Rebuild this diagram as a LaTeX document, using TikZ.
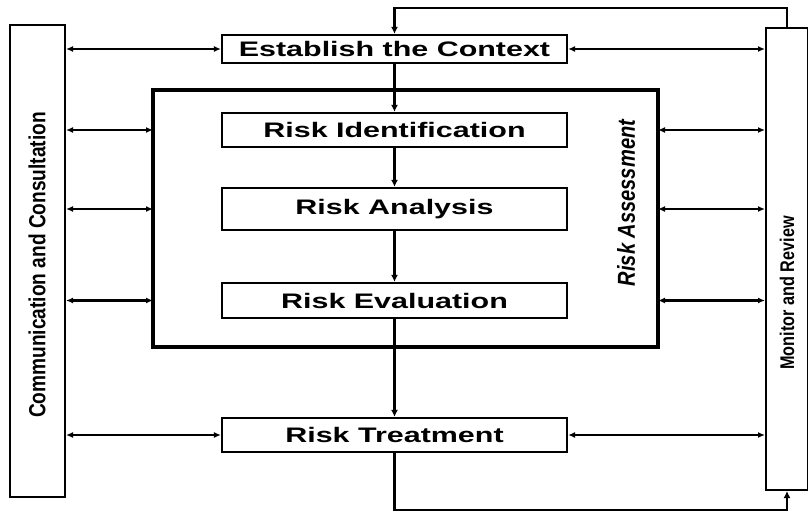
\documentclass[tikz,border=0pt]{standalone}
\usepackage{fontspec}
\setmainfont{Liberation Sans}
\newfontfamily\boxfont[FakeStretch=1.45]{Liberation Sans}
\newfontfamily\sidefont[FakeStretch=0.82]{Liberation Sans}
\usetikzlibrary{arrows.meta,positioning,calc}

\begin{document}
\begin{tikzpicture}[x=1pt,y=-1pt,
  stage/.style={draw,line width=2.2pt,minimum width=345pt,inner sep=0pt,
                font=\boxfont\bfseries\fontsize{21}{24}\selectfont},
  side/.style={draw,line width=2pt,inner sep=0pt},
  lbl/.style={rotate=90,inner sep=0pt,font=\sidefont\bfseries\fontsize{23.3}{26}\selectfont},
  link/.style={line width=2.2pt,{Latex[length=7pt,width=6pt]}-{Latex[length=7pt,width=6pt]}},
  flow/.style={line width=2.4pt,-{Latex[length=7pt,width=7pt]}}]
\useasboundingbox (0,0) rectangle (808,513);
\node[side,minimum width=55pt,minimum height=472pt] (comm) at (37.5,261) {};
\node[side,minimum width=42pt,minimum height=462pt] (monitor) at (787,259) {};
\draw[line width=3.2pt] (153,90) rectangle (658,347);
\coordinate (assessW) at (153,0);
\coordinate (assessE) at (658,0);
\node[stage,minimum height=28pt] (context) at (394.5,49) {Establish the Context};
\node[stage,minimum height=34pt] (ident) at (394.5,130) {Risk Identification};
\node[stage,minimum height=42pt] (analysis) at (394.5,209) {Risk Analysis};
\node[stage,minimum height=35pt] (evaluation) at (394.5,300.5) {Risk Evaluation};
\node[stage,minimum height=34pt] (treatment) at (394.5,435) {Risk Treatment};
\node[lbl] (commtext) at (37,265) {Communication and Consultation};
\node[lbl,font=\sidefont\bfseries\itshape\fontsize{24.5}{27}\selectfont] (assesstext) at (626,203) {Risk Assessment};
\node[lbl,font=\sidefont\bfseries\fontsize{19.8}{22}\selectfont] (montext) at (787,293) {Monitor and Review};
\draw[link] (comm.east |- context) -- (context.west);
\draw[link] (context.east) -- (monitor.west |- context);
\foreach \n in {ident,analysis,evaluation}{
  \draw[link] (comm.east |- \n) -- (assessW |- \n);
  \draw[link] (assessE |- \n) -- (monitor.west |- \n);
}
\draw[link] (comm.east |- treatment) -- (treatment.west);
\draw[link] (treatment.east) -- (monitor.west |- treatment);
\draw[flow] (context) -- (ident);
\draw[flow] (ident) -- (analysis);
\draw[flow] (analysis) -- (evaluation);
\draw[flow] (evaluation) -- (treatment);
\coordinate (tr) at (monitor.north |- 0,8);
\coordinate (tl) at (context.north |- 0,8);
\coordinate (bl) at (treatment.south |- 0,510);
\coordinate (br) at (monitor.south |- 0,510);
\draw[flow] (monitor.north) -- (tr) -- (tl) -- (context.north);
\draw[flow] (treatment.south) -- (bl) -- (br) -- (monitor.south);
\end{tikzpicture}
\end{document}
